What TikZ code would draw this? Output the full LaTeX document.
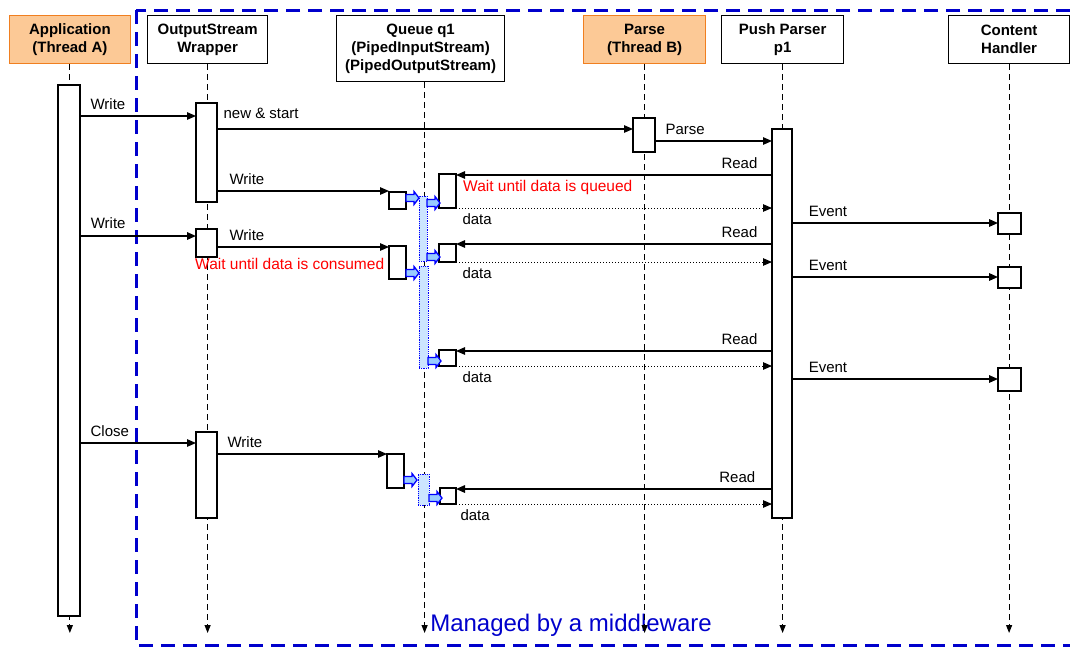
\documentclass[tikz,border=0pt]{standalone}
\usepackage{fontspec}
\setmainfont{Liberation Sans}
\usetikzlibrary{arrows.meta}
\definecolor{hdrfill}{HTML}{FCC996}
\definecolor{hdrline}{HTML}{F07F20}
\definecolor{mwblue}{HTML}{0000CC}
\definecolor{qfill}{HTML}{CCE5FF}
\definecolor{qarrfill}{HTML}{99CCFF}
\begin{document}
\begin{tikzpicture}[x=1pt,y=-1pt,
	hdr/.style={draw, line width=1.2pt, minimum height=48pt, align=center, inner sep=0pt, anchor=north west, font=\bfseries\fontsize{15}{18}\selectfont},
	thr/.style={hdr, draw=hdrline, fill=hdrfill},
	life/.style={line width=1.1pt, dash pattern=on 6pt off 4pt, -{Triangle[length=8pt,width=6pt]}},
	bar/.style={draw, fill=white, line width=1.2pt, inner sep=0pt, outer sep=0pt, anchor=north west},
	qbar/.style={bar, draw=blue, fill=qfill, line width=0.8pt, densely dotted},
	qarr/.style={draw=blue, fill=qarrfill, line width=1.3pt, line join=miter},
	msg/.style={line width=1.2pt, -{Triangle[length=9pt,width=7.5pt]}},
	rtn/.style={line width=1pt, dotted, -{Triangle[length=9pt,width=7.5pt]}},
	txt/.style={inner sep=0pt, font=\fontsize{15}{18}\selectfont},
	lbl/.style={txt, anchor=base west, xshift=10pt, yshift=6.5pt},
	rlbl/.style={txt, anchor=base east, xshift=-14pt, yshift=6.5pt},
	dlbl/.style={txt, anchor=north west, xshift=6pt, yshift=-5pt},
	note/.style={txt, text=red, anchor=base west, font=\fontsize{15.5}{18}\selectfont}]
\useasboundingbox (0,0) rectangle (1070,646);
\def\actbar#1#2#3#4#5{\node[bar, minimum width={(#4)-(#2)}, minimum height={(#5)-(#3)}] (#1) at (#2,#3) {};}
\def\qbar#1#2#3#4#5{\node[qbar, minimum width={(#4)-(#2)}, minimum height={(#5)-(#3)}] (#1) at (#2,#3) {};}
\def\qarrow#1{\draw[qarr] (#1) ++(0,-3.5) -- ++(8,0) -- ++(0,-3) -- ++(5,6.5) -- ++(-5,6.5) -- ++(0,-3) -- ++(-8,0) -- cycle;}
% middleware frame
\draw[mwblue, line width=3pt, dash pattern=on 14pt off 8pt] (136,10) rectangle (1090,645);
\node[txt, text=mwblue, font=\fontsize{24}{28}\selectfont] (mw) at (571,625) {Managed by a middleware};
% lifelines
\node[thr, minimum width=121.5pt] (app) at (8.5,15) {Application\\(Thread A)};
\node[hdr, minimum width=120pt] (osw) at (147,15) {OutputStream\\Wrapper};
\node[hdr, minimum width=168pt, minimum height=66pt] (queue) at (336,15) {Queue q1\\(PipedInputStream)\\(PipedOutputStream)};
\node[thr, minimum width=122pt] (parse) at (583,15) {Parse\\(Thread B)};
\node[hdr, minimum width=122pt] (pp) at (721,15) {Push Parser\\p1};
\node[hdr, minimum width=121pt] (ch) at (948,15) {Content\\Handler};
\coordinate (end) at (0,633);
\foreach \n/\dx in {app/0,osw/0,queue/4,parse/0,pp/0,ch/0}
	\draw[life] ([xshift=\dx pt]\n.south) -- ([xshift=\dx pt]\n.south |- end);
% activations
\actbar{appbar}{58}{85}{80}{616}
\actbar{oswA}{196}{103}{217}{202}
\actbar{oswB}{196}{229}{217}{257}
\actbar{oswC}{196}{432}{217}{518}
\actbar{parseA}{633}{118}{655}{152}
\actbar{ppbar}{772}{129}{792}{518}
\actbar{ehA}{998}{213}{1021}{234}
\actbar{ehB}{998}{267}{1021}{288}
\actbar{ehC}{998}{368}{1021}{391}
\actbar{wbA}{389}{192}{406}{209}
\actbar{wbB}{389}{246}{406}{279}
\actbar{wbC}{387}{454}{404}{488}
\actbar{rbA}{439}{174}{456}{208}
\actbar{rbB}{439}{244}{456}{262}
\actbar{rbC}{439}{350}{456}{366}
\actbar{rbD}{440}{488}{456}{504}
\qbar{qbA}{419}{196}{427}{261}
\qbar{qbB}{419}{266}{428}{368}
\qbar{qbC}{418}{474}{429}{505}
% message rows
\foreach \r/\y in {wr1/116,nst/129,prs/141,rd1/175,wr2/191,qi1/198,qo1/203,dt1/208,ev1/223,wr3/236,rd2/244,wr4/247,qo2/257,dt2/262,qi2/273,ev2/277,rd3/351,qo3/361,dt3/366,ev3/379,cls/443,wr5/454,qi3/480,rd4/489,qo4/498,dt4/504}
	\coordinate (\r) at (0,\y);
% calls
\draw[msg] (appbar.east |- wr1) -- (oswA.west |- wr1) node[lbl, pos=0] (lwr1) {Write};
\draw[msg] (oswA.east |- nst) -- (parseA.west |- nst) node[lbl, pos=0, xshift=-4pt, yshift=4.5pt] (lnst) {new \& start};
\draw[msg] (parseA.east |- prs) -- (ppbar.west |- prs) node[lbl, pos=0] (lprs) {Parse};
\draw[msg] (oswA.east |- wr2) -- (wbA.west |- wr2) node[lbl, pos=0, xshift=2pt] (lwr2) {Write};
\draw[msg, line width=1.6pt] (appbar.east |- wr3) -- (oswB.west |- wr3) node[lbl, pos=0, yshift=1pt] (lwr3) {Write};
\draw[msg] (oswB.east |- wr4) -- (wbB.west |- wr4) node[lbl, pos=0, xshift=2pt] (lwr4) {Write};
\draw[msg] (appbar.east |- cls) -- (oswC.west |- cls) node[lbl, pos=0] (lcls) {Close};
\draw[msg] (oswC.east |- wr5) -- (wbC.west |- wr5) node[lbl, pos=0] (lwr5) {Write};
% reads
\draw[msg] (ppbar.west |- rd1) -- (rbA.east |- rd1) node[rlbl, pos=0] (lrd1) {Read};
\draw[msg] (ppbar.west |- rd2) -- (rbB.east |- rd2) node[rlbl, pos=0] (lrd2) {Read};
\draw[msg] (ppbar.west |- rd3) -- (rbC.east |- rd3) node[rlbl, pos=0] (lrd3) {Read};
\draw[msg, line width=1.6pt] (ppbar.west |- rd4) -- (rbD.east |- rd4) node[rlbl, pos=0, xshift=-2pt] (lrd4) {Read};
\draw[rtn] (rbA.east |- dt1) -- (ppbar.west |- dt1) node[dlbl, pos=0] (ldt1) {data};
\draw[rtn] (rbB.east |- dt2) -- (ppbar.west |- dt2) node[dlbl, pos=0] (ldt2) {data};
\draw[rtn] (rbC.east |- dt3) -- (ppbar.west |- dt3) node[dlbl, pos=0] (ldt3) {data};
\draw[rtn] (rbD.east |- dt4) -- (ppbar.west |- dt4) node[dlbl, pos=0, xshift=-2pt] (ldt4) {data};
% events
\draw[msg, line width=1.6pt] (ppbar.east |- ev1) -- (ehA.west |- ev1) node[lbl, pos=0, xshift=6pt] (lev1) {Event};
\draw[msg, line width=1.6pt] (ppbar.east |- ev2) -- (ehB.west |- ev2) node[lbl, pos=0, xshift=6pt] (lev2) {Event};
\draw[msg, line width=1.6pt] (ppbar.east |- ev3) -- (ehC.west |- ev3) node[lbl, pos=0, xshift=6pt] (lev3) {Event};
% queue hand-over
\qarrow{wbA.east |- qi1}
\qarrow{wbB.east |- qi2}
\qarrow{wbC.east |- qi3}
\qarrow{qbA.east |- qo1}
\qarrow{qbA.east |- qo2}
\qarrow{qbB.east |- qo3}
\qarrow{qbC.east |- qo4}
\node[note] (nq) at (463,191) {Wait until data is queued};
\node[note] (nc) at (195,269) {Wait until data is consumed};
\end{tikzpicture}
\end{document}
